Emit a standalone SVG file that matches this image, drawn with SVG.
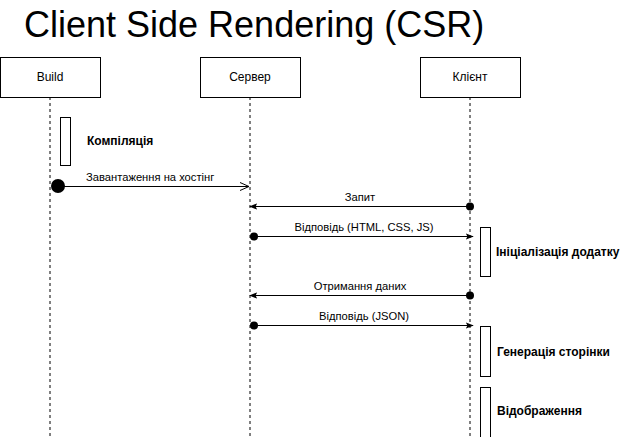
<svg xmlns="http://www.w3.org/2000/svg" width="624" height="437" viewBox="0 0 624 437">
<defs>
<style>
.box{fill:#fff;stroke:#000;stroke-width:1}
.life{stroke:#000;stroke-width:1;stroke-dasharray:3 3;fill:none}
.act{fill:#fff;stroke:#000;stroke-width:1}
.msg{stroke:#000;stroke-width:1;fill:none}
.t{font-family:"Liberation Sans",Arial,sans-serif;font-size:11.2px;fill:#000}
.n{font-family:"Liberation Sans",Arial,sans-serif;font-size:12px;fill:#000;text-anchor:middle}
.b{font-family:"Liberation Sans",Arial,sans-serif;font-size:12px;font-weight:bold;fill:#000}
</style>
<marker id="filled" viewBox="0 0 10 10" refX="9" refY="5" markerWidth="8" markerHeight="8" markerUnits="userSpaceOnUse" orient="auto">
<path d="M0,1 L10,5 L0,9 L2,5 Z" fill="#000"/>
</marker>
<marker id="open" viewBox="0 0 10 10" refX="9" refY="5" markerWidth="10" markerHeight="10" markerUnits="userSpaceOnUse" orient="auto">
<path d="M0,1 L9,5 L0,9" fill="none" stroke="#000" stroke-width="1"/>
</marker>
</defs>
<rect width="624" height="437" fill="#fff"/>
<text x="24" y="37" font-family="'Liberation Sans',Arial,sans-serif" font-size="36" fill="#000">Client Side Rendering (CSR)</text>

<g id="build">
<line class="life" x1="50" y1="97" x2="50" y2="437"/>
<rect class="box" x="0.5" y="57.5" width="100" height="40"/>
<text class="n" x="50" y="81">Build</text>
<rect class="act" x="60.5" y="117.5" width="10" height="48"/>
<text class="b" x="87" y="145">Компіляція</text>
</g>
<g id="server">
<line class="life" x1="250" y1="97" x2="250" y2="437"/>
<rect class="box" x="200.5" y="57.5" width="100" height="40"/>
<text class="n" x="250" y="81">Сервер</text>
</g>
<g id="client">
<line class="life" x1="470" y1="97" x2="470" y2="437"/>
<rect class="box" x="420.5" y="57.5" width="100" height="40"/>
<text class="n" x="470" y="81">Клієнт</text>
<rect class="act" x="480.5" y="227.5" width="10" height="49"/>
<text class="b" x="496" y="256">Ініціалізація додатку</text>
<rect class="act" x="480.5" y="326.5" width="10" height="50"/>
<text class="b" x="497" y="356">Генерація сторінки</text>
<rect class="act" x="480.5" y="387.5" width="10" height="50"/>
<text class="b" x="497" y="415">Відображення</text>
</g>

<g id="connectors">
<circle cx="58" cy="186" r="7" fill="#000"/>
<line class="msg" x1="58" y1="186.5" x2="249" y2="186.5" marker-end="url(#open)"/>
<text class="t" x="86" y="181">Завантаження на хостінг</text>

<circle cx="470" cy="206.5" r="4" fill="#000"/>
<line class="msg" x1="470" y1="206.5" x2="250" y2="206.5" marker-end="url(#filled)"/>
<text class="t" x="360" y="201" text-anchor="middle">Запит</text>

<circle cx="254" cy="236.5" r="4" fill="#000"/>
<line class="msg" x1="254" y1="236.5" x2="473" y2="236.5" marker-end="url(#filled)"/>
<text class="t" x="364" y="231" text-anchor="middle">Відповідь (HTML, CSS, JS)</text>

<circle cx="470" cy="295.5" r="4" fill="#000"/>
<line class="msg" x1="470" y1="295.5" x2="250" y2="295.5" marker-end="url(#filled)"/>
<text class="t" x="360" y="290" text-anchor="middle">Отримання даних</text>

<circle cx="254" cy="325.5" r="4" fill="#000"/>
<line class="msg" x1="254" y1="325.5" x2="473" y2="325.5" marker-end="url(#filled)"/>
<text class="t" x="364" y="320" text-anchor="middle">Відповідь (JSON)</text>
</g>
</svg>
